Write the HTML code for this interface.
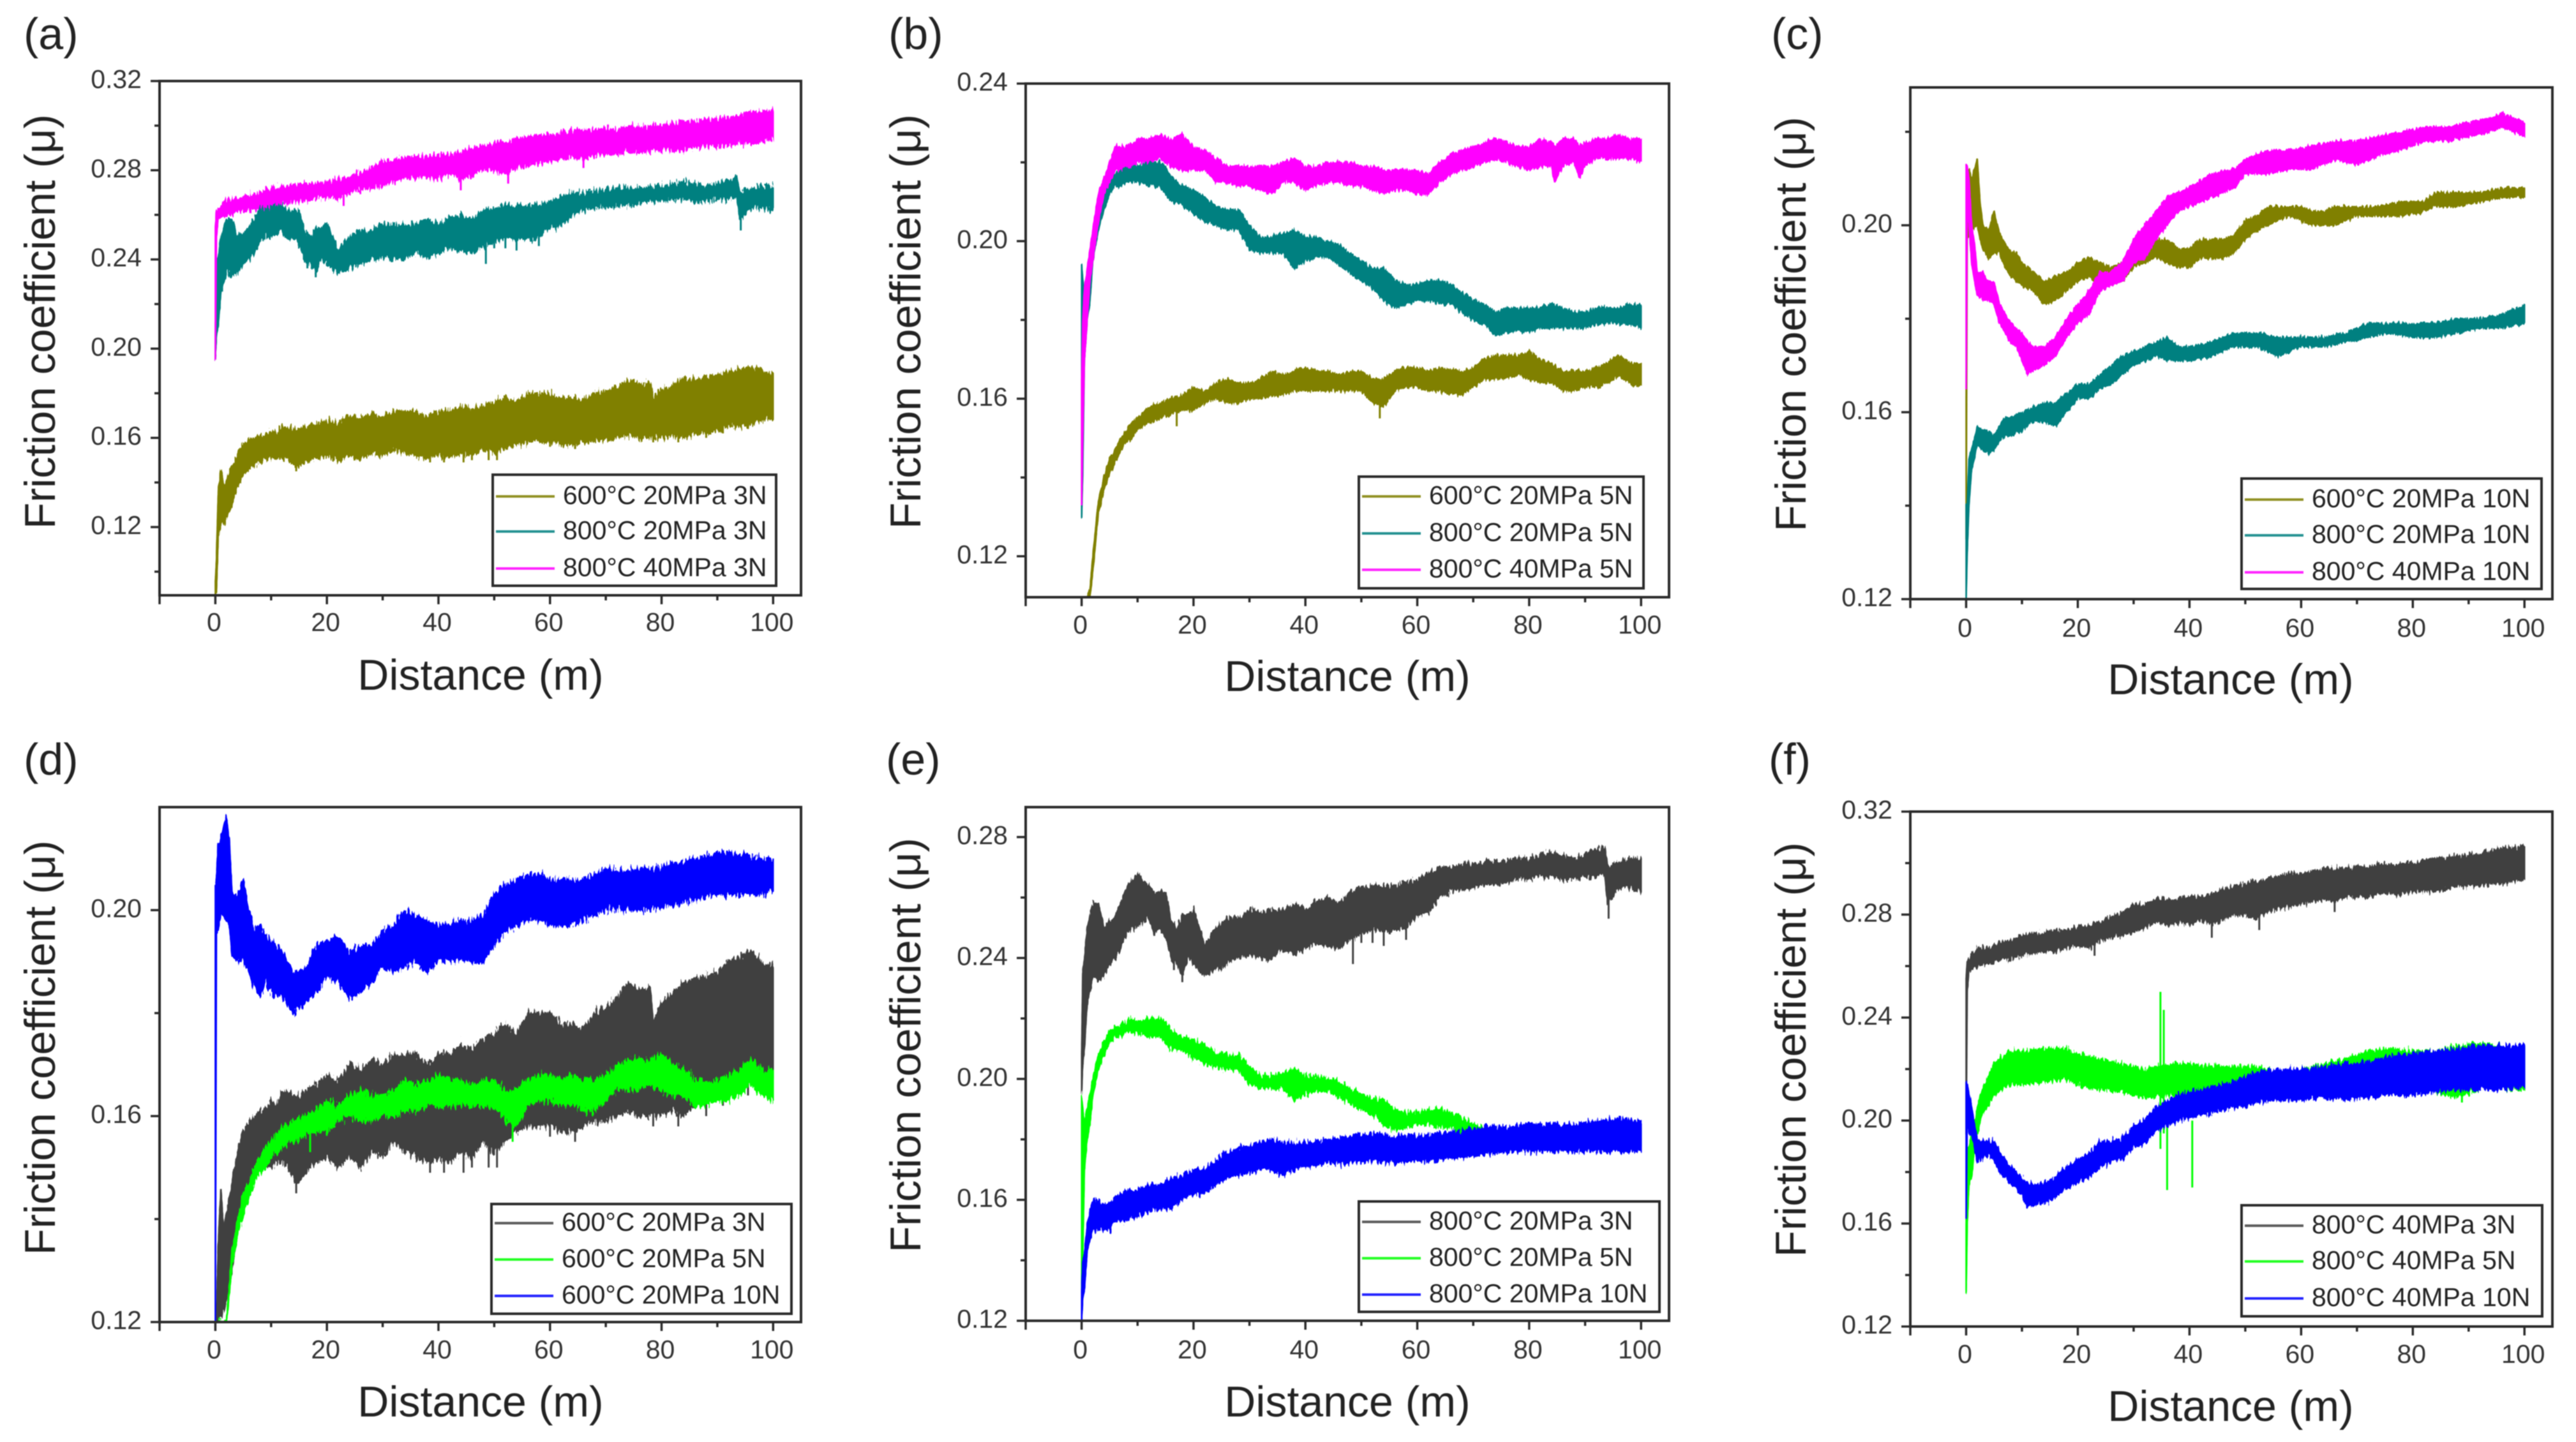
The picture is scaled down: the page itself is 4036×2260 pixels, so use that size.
<!DOCTYPE html>
<html lang="en">
<head>
<meta charset="utf-8">
<title>Friction coefficient versus distance</title>
<style>
html,body{margin:0;padding:0;background:#fff;width:4036px;height:2260px;overflow:hidden}
svg{display:block;filter:blur(0.9px)}
text{font-family:"Liberation Sans",Arial,sans-serif}
</style>
</head>
<body>
<svg id="figure" xmlns="http://www.w3.org/2000/svg" width="4036" height="2260" viewBox="0 0 4036 2260"></svg>
<script>
// Rows are [distance m, lower edge of trace, upper edge of trace].
const t600_20_3N=[[0,.085,.095],[.2,.09,.106],[.5,.115,.135],[1,.121,.146],[1.5,.122,.138],[2,.124,.141],[3,.13,.147],[4,.138,.153],[5,.143,.157],[6,.146,.159],[7,.148,.16],[8,.149,.161],[9,.15,.161],[10,.15,.163],[11,.151,.162],[12,.151,.165],[13,.15,.165],[14,.148,.164],[15,.147,.164],[16,.149,.165],[18,.151,.166],[20,.152,.168],[22,.15,.167],[24,.152,.17],[26,.15,.169],[28,.153,.171],[30,.152,.17],[32,.155,.172],[34,.153,.172],[36,.152,.172],[38,.151,.17],[40,.152,.172],[42,.151,.172],[44,.153,.174],[46,.152,.173],[48,.155,.175],[50,.153,.176],[52,.155,.178],[54,.157,.176],[56,.158,.18],[58,.158,.18],[60,.158,.18],[62,.157,.178],[64,.157,.178],[66,.158,.177],[68,.159,.18],[70,.159,.181],[72,.16,.183],[74,.161,.186],[76,.16,.184],[78,.16,.185],[78.5,.16,.178],[80,.16,.182],[82,.161,.184],[84,.16,.186],[86,.162,.187],[88,.162,.187],[90,.163,.188],[92,.165,.19],[94,.165,.191],[96,.166,.192],[98,.168,.19],[100,.168,.189]];
const spikes_600_20_3N=[[14.5,.145,.155],[38.5,.149,.16],[41,.149,.16],[44.5,.149,.16],[46,.15,.16],[49,.15,.16],[50.5,.15,.16],[60,.156,.165],[64.5,.155,.165],[78.5,.158,.168],[83,.158,.168],[88,.16,.17],[91,.162,.172],[95.5,.164,.172]];
const t800_20_3N=[[0,.195,.208],[.2,.205,.235],[.5,.21,.24],[1,.225,.25],[2,.234,.258],[3,.233,.258],[4,.234,.25],[5,.238,.252],[6,.24,.254],[7,.243,.258],[8,.248,.263],[9,.25,.266],[10,.25,.268],[11,.252,.266],[12,.253,.264],[13,.248,.262],[14,.25,.262],[15,.247,.262],[16,.24,.252],[17,.238,.25],[18,.234,.254],[19,.24,.254],[20,.238,.256],[22,.234,.244],[24,.236,.25],[26,.238,.253],[28,.24,.253],[30,.241,.256],[32,.24,.255],[34,.24,.256],[36,.243,.256],[38,.241,.258],[40,.243,.256],[42,.245,.259],[44,.244,.26],[46,.243,.258],[48,.246,.262],[50,.248,.263],[52,.249,.264],[54,.249,.264],[56,.249,.264],[58,.25,.265],[60,.254,.266],[62,.255,.268],[64,.26,.27],[66,.262,.27],[68,.263,.271],[70,.263,.271],[72,.264,.272],[74,.264,.272],[76,.265,.272],[78,.266,.273],[80,.266,.273],[82,.267,.274],[84,.267,.275],[86,.266,.274],[88,.266,.273],[90,.267,.274],[92,.267,.276],[93.5,.268,.277],[94,.258,.27],[96,.263,.272],[98,.263,.273],[100,.262,.273]];
const spikes_800_20_3N=[[16.5,.236,.245],[18,.232,.24],[48.5,.238,.25],[50,.245,.252],[52,.245,.252],[54,.244,.25],[58,.246,.252],[94.2,.253,.262]];
const t800_40_3N=[[0,.195,.255],[.2,.25,.262],[.5,.258,.263],[1,.259,.264],[2,.26,.267],[4,.261,.267],[6,.262,.269],[8,.263,.27],[10,.264,.272],[12,.265,.273],[14,.266,.273],[16,.266,.274],[18,.267,.274],[20,.268,.275],[22,.267,.276],[24,.27,.277],[26,.271,.279],[28,.272,.281],[30,.273,.284],[32,.275,.284],[34,.277,.286],[36,.276,.286],[38,.277,.286],[40,.276,.287],[42,.278,.287],[44,.276,.288],[46,.278,.29],[48,.28,.291],[50,.28,.292],[52,.278,.293],[54,.281,.294],[56,.282,.295],[58,.283,.296],[60,.284,.296],[62,.285,.297],[64,.286,.298],[66,.285,.298],[68,.287,.298],[70,.287,.299],[72,.287,.298],[74,.288,.3],[76,.288,.299],[78,.288,.3],[80,.289,.3],[82,.289,.301],[84,.289,.302],[86,.29,.302],[88,.291,.303],[90,.291,.303],[92,.291,.304],[94,.292,.305],[96,.292,.306],[98,.293,.306],[100,.294,.307]];
const spikes_800_40_3N=[[23,.264,.27],[44,.271,.28],[52.5,.274,.282],[66,.281,.288]];
const t600_20_5N=[[0,.08,.08],[1,.098,.1],[1.5,.109,.112],[2,.116,.12],[3,.131,.134],[4,.137,.14],[5,.141,.145],[6,.144,.147],[7,.147,.15],[8,.149,.152],[9,.15,.154],[10,.152,.155],[12,.154,.158],[14,.155,.159],[16,.156,.16],[18,.157,.161],[20,.157,.163],[22,.159,.162],[24,.16,.164],[26,.159,.165],[28,.159,.164],[30,.16,.164],[32,.16,.165],[34,.161,.167],[36,.161,.166],[38,.162,.167],[40,.162,.168],[42,.162,.167],[44,.162,.167],[46,.162,.166],[48,.162,.167],[50,.162,.167],[52,.159,.165],[54,.158,.165],[56,.162,.167],[58,.163,.168],[60,.163,.168],[62,.162,.167],[64,.162,.168],[66,.161,.167],[68,.161,.167],[70,.163,.168],[72,.165,.17],[74,.165,.171],[76,.165,.171],[78,.166,.171],[80,.165,.172],[82,.164,.17],[84,.164,.169],[86,.162,.167],[88,.162,.167],[90,.163,.167],[92,.163,.168],[94,.164,.169],[96,.166,.171],[98,.164,.169],[100,.163,.169]];
const spikes_600_20_5N=[[53.3,.155,.165],[17,.153,.16]];
const t800_20_5N=[[0,.13,.194],[.2,.141,.19],[.5,.17,.186],[1,.18,.19],[1.5,.185,.195],[2,.195,.2],[3,.203,.208],[4,.208,.212],[5,.212,.216],[6,.214,.217],[7,.214,.218],[8,.215,.219],[9,.215,.22],[10,.215,.219],[12,.214,.22],[14,.214,.22],[15,.212,.219],[16,.21,.216],[18,.209,.214],[20,.207,.213],[22,.205,.211],[24,.204,.209],[26,.203,.208],[28,.203,.208],[30,.198,.204],[32,.197,.201],[34,.197,.201],[36,.197,.202],[38,.193,.203],[40,.195,.201],[42,.196,.201],[44,.196,.2],[46,.194,.199],[48,.192,.197],[50,.19,.195],[52,.188,.193],[54,.185,.193],[56,.183,.19],[58,.184,.189],[60,.185,.189],[62,.185,.19],[64,.184,.19],[66,.184,.189],[68,.182,.187],[70,.18,.185],[72,.179,.184],[74,.176,.182],[76,.177,.183],[78,.177,.183],[80,.177,.183],[82,.178,.183],[84,.178,.184],[86,.178,.183],[88,.178,.182],[90,.178,.182],[92,.179,.183],[94,.179,.183],[96,.179,.183],[98,.179,.184],[100,.178,.184]];
const t800_40_5N=[[0,.133,.165],[.2,.15,.18],[.5,.17,.188],[1,.18,.193],[1.5,.19,.198],[2,.195,.203],[3,.205,.212],[4,.212,.216],[5,.215,.22],[6,.218,.224],[7,.218,.224],[8,.219,.224],[9,.219,.225],[10,.22,.226],[12,.22,.226],[14,.221,.227],[16,.219,.226],[18,.218,.227],[20,.218,.224],[22,.218,.223],[24,.215,.221],[26,.215,.219],[28,.214,.219],[30,.214,.219],[32,.213,.219],[34,.212,.219],[36,.215,.22],[38,.215,.221],[40,.213,.219],[42,.214,.219],[44,.215,.22],[46,.215,.22],[48,.214,.22],[50,.214,.219],[52,.213,.219],[54,.212,.218],[56,.213,.218],[58,.213,.218],[60,.212,.218],[62,.212,.217],[64,.215,.22],[66,.217,.222],[68,.218,.223],[70,.219,.224],[72,.22,.225],[74,.221,.226],[76,.22,.225],[78,.219,.224],[80,.218,.224],[82,.219,.226],[84,.219,.225],[84.5,.215,.224],[86,.219,.226],[88,.22,.226],[89,.216,.224],[90,.219,.225],[92,.221,.226],[94,.221,.226],[96,.221,.227],[98,.221,.226],[100,.22,.226]];
const t600_20_10N=[[0,.133,.163],[.2,.197,.21],[.5,.198,.212],[1,.199,.21],[2,.2,.214],[2.5,.197,.205],[3,.195,.2],[4,.193,.199],[5,.194,.203],[6,.194,.198],[7,.191,.196],[8,.189,.194],[9,.188,.194],[10,.187,.192],[12,.186,.19],[14,.183,.188],[16,.184,.189],[18,.186,.19],[20,.188,.192],[22,.189,.193],[24,.187,.192],[26,.187,.191],[28,.188,.192],[30,.191,.195],[32,.192,.196],[34,.193,.197],[36,.192,.197],[38,.191,.195],[40,.191,.195],[42,.193,.197],[44,.193,.197],[46,.193,.197],[48,.194,.198],[50,.197,.201],[52,.199,.202],[54,.2,.204],[56,.201,.204],[58,.202,.204],[60,.201,.204],[62,.2,.203],[64,.2,.203],[66,.2,.204],[68,.201,.204],[70,.202,.204],[74,.202,.204],[78,.202,.205],[82,.203,.205],[84,.204,.207],[88,.204,.207],[92,.205,.207],[96,.206,.208],[100,.206,.208]];
const t800_20_10N=[[0,.12,.14],[.2,.13,.14],[.5,.14,.15],[1,.148,.152],[2,.153,.157],[3,.152,.156],[4,.151,.156],[5,.152,.155],[6,.154,.157],[7,.155,.159],[8,.155,.159],[10,.156,.16],[12,.158,.161],[14,.158,.162],[16,.157,.162],[18,.16,.164],[20,.163,.166],[22,.163,.166],[24,.165,.168],[26,.166,.17],[28,.168,.172],[30,.17,.173],[32,.171,.174],[34,.172,.175],[36,.171,.176],[38,.171,.174],[40,.171,.174],[44,.172,.175],[48,.174,.177],[52,.174,.177],[56,.172,.176],[60,.174,.176],[64,.174,.176],[68,.175,.177],[72,.176,.179],[76,.177,.179],[80,.176,.179],[84,.176,.179],[88,.177,.18],[92,.178,.18],[96,.178,.181],[100,.179,.183]];
const t800_40_10N=[[0,.165,.213],[.2,.205,.213],[.5,.2,.21],[1,.192,.2],[1.5,.188,.196],[2,.185,.19],[3,.184,.19],[4,.184,.188],[5,.183,.188],[6,.179,.183],[7,.177,.181],[8,.175,.179],[9,.174,.178],[10,.171,.177],[11,.168,.175],[12,.169,.174],[14,.17,.174],[16,.172,.176],[18,.176,.18],[20,.179,.183],[22,.181,.186],[24,.186,.19],[26,.187,.19],[28,.188,.192],[30,.192,.197],[32,.193,.2],[34,.197,.203],[36,.2,.206],[38,.203,.207],[40,.204,.208],[44,.206,.211],[48,.208,.212],[50,.211,.214],[54,.211,.216],[58,.212,.216],[62,.212,.217],[66,.214,.218],[70,.213,.218],[74,.215,.219],[78,.216,.22],[82,.218,.221],[86,.218,.221],[90,.219,.222],[94,.22,.223],[96,.221,.224],[98,.22,.223],[100,.219,.222]];
const t600_20_10N_wide=[[0,.12,.205],[.2,.197,.206],[.5,.196,.213],[1,.2,.214],[2,.198,.218],[2.5,.198,.214],[3,.191,.203],[4,.19,.203],[5,.19,.206],[6,.188,.2],[7,.185,.196],[8,.183,.197],[9,.186,.195],[10,.184,.194],[12,.183,.192],[14,.18,.188],[16,.182,.188],[18,.184,.193],[20,.187,.194],[22,.186,.195],[24,.183,.192],[26,.184,.193],[28,.186,.193],[30,.189,.196],[32,.188,.197],[34,.189,.2],[36,.19,.199],[38,.188,.198],[40,.19,.197],[44,.19,.198],[46,.19,.198],[48,.19,.199],[50,.193,.203],[52,.196,.205],[54,.197,.206],[56,.198,.207],[58,.198,.207],[60,.197,.206],[62,.197,.206],[66,.198,.206],[70,.2,.208],[74,.2,.208],[78,.2,.208],[82,.201,.209],[86,.202,.21],[90,.203,.211],[94,.203,.211],[98,.203,.21],[100,.204,.21]];
const t800_20_10N_wide=[[0,.12,.13],[.2,.128,.14],[.5,.13,.142],[1,.143,.152],[2,.15,.16],[3,.15,.16],[4,.15,.158],[5,.15,.159],[6,.153,.161],[8,.153,.163],[10,.155,.163],[12,.156,.165],[14,.157,.165],[16,.157,.167],[18,.16,.168],[20,.162,.17],[22,.162,.17],[24,.165,.173],[26,.167,.176],[28,.168,.177],[30,.169,.178],[32,.17,.179],[34,.17,.18],[36,.168,.179],[38,.17,.179],[40,.171,.179],[44,.172,.18],[48,.172,.181],[52,.173,.182],[56,.172,.181],[60,.173,.181],[64,.173,.182],[68,.174,.183],[72,.175,.184],[76,.176,.184],[80,.176,.185],[84,.176,.185],[88,.176,.185],[92,.176,.186],[96,.176,.187],[100,.176,.186]];
const t800_40_10N_wide=[[0,.162,.215],[.2,.2,.214],[.5,.195,.21],[1,.194,.205],[2,.184,.192],[3,.186,.192],[4,.186,.192],[5,.185,.192],[6,.18,.188],[8,.175,.182],[10,.171,.178],[11,.166,.176],[12,.167,.175],[14,.168,.176],[16,.17,.178],[18,.174,.182],[20,.176,.185],[22,.178,.187],[24,.182,.192],[26,.184,.192],[28,.185,.193],[30,.19,.198],[32,.191,.2],[34,.196,.205],[36,.198,.208],[38,.2,.21],[40,.201,.211],[44,.203,.213],[48,.205,.215],[52,.207,.219],[56,.208,.22],[60,.208,.22],[64,.209,.221],[68,.208,.222],[72,.209,.223],[76,.21,.225],[80,.21,.226],[84,.211,.227],[88,.212,.228],[92,.212,.229],[96,.212,.229],[100,.213,.229]];
const t800_40_5N_wide=[[0,.133,.16],[.2,.16,.19],[.5,.175,.19],[1,.178,.195],[1.5,.19,.2],[2,.195,.205],[3,.203,.213],[4,.206,.217],[5,.21,.222],[6,.212,.224],[8,.214,.227],[10,.214,.227],[14,.215,.228],[18,.216,.228],[20,.214,.226],[24,.212,.224],[28,.211,.222],[32,.209,.22],[36,.21,.222],[40,.21,.222],[44,.21,.221],[48,.21,.221],[52,.21,.221],[56,.208,.219],[60,.209,.22],[64,.21,.222],[68,.21,.224],[72,.212,.227],[76,.212,.228],[80,.211,.227],[84,.211,.227],[88,.209,.229],[92,.212,.23],[96,.212,.229],[100,.212,.229]];
const spikes_800_40_5N=[[34.8,.189,.25],[35.4,.195,.243],[36,.173,.2],[40.5,.174,.2],[88.8,.207,.215]];

const xTickLabels=[0,20,40,60,80,100];
const xMinorTicks=[10,30,50,70,90];
const yTicksA=[.12,.16,.20,.24,.28,.32];
const yMinorA=[.10,.14,.18,.22,.26,.30];
const yTicksB=[.12,.16,.20,.24];
const yMinorB=[.14,.18,.22];
const yTicksC=[.12,.16,.20];
const yMinorC=[.14,.18,.22];
const yTicksD=[.12,.16,.20];
const yMinorD=[.14,.18];
const yTicksE=[.12,.16,.20,.24,.28];
const yMinorE=[.14,.18,.22,.26];
const yTicksF=[.12,.16,.20,.24,.28,.32];
const yMinorF=[.14,.18,.22,.26,.30];

const OLIVE='#808000',TEAL='#008080',MAGENTA='#ff00ff',DARK='#404040',GREEN='#00ff00',BLUE='#0000ff';
const panels=[
 {id:'a',rough:22,box:[250,1255,127,933],yr:[.0894,.32],yt:yTicksA,ym:yMinorA,lab:[37,77],xl:989,xt:[753,1081],yt2:[86,504],leg:[772,1216,744,918,[778,833,891]],
  s:[['600°C 20MPa 3N',OLIVE,t600_20_3N,spikes_600_20_3N],['800°C 20MPa 3N',TEAL,t800_20_3N,spikes_800_20_3N],['800°C 40MPa 3N',MAGENTA,t800_40_3N,spikes_800_40_3N]]},
 {id:'b',rough:13,box:[1607,2615,131,936],yr:[.1096,.24],yt:yTicksB,ym:yMinorB,lab:[1392,77],xl:993,xt:[2111,1083],yt2:[1442,504],leg:[2129,2575,747,922,[778,836,893]],
  s:[['600°C 20MPa 5N',OLIVE,t600_20_5N,spikes_600_20_5N],['800°C 20MPa 5N',TEAL,t800_20_5N,null],['800°C 40MPa 5N',MAGENTA,t800_40_5N,null]]},
 {id:'c',rough:11,box:[2993,3999,137,939],yr:[.12,.2295],yt:yTicksC,ym:yMinorC,lab:[2775,77],xl:998,xt:[3495,1088],yt2:[2829,508],leg:[3512,3982,750,923,[783,839,897]],
  s:[['600°C 20MPa 10N',OLIVE,t600_20_10N,null],['800°C 20MPa 10N',TEAL,t800_20_10N,null],['800°C 40MPa 10N',MAGENTA,t800_40_10N,null]]},
 {id:'d',rough:26,box:[250,1255,1265,2072],yr:[.12,.22],yt:yTicksD,ym:yMinorD,lab:[37,1214],xl:2129,xt:[753,2220],yt2:[86,1642],leg:[770,1240,1887,2059,[1917,1974,2031]],
  s:[['600°C 20MPa 3N',DARK,t600_20_3N,spikes_600_20_3N],['600°C 20MPa 5N',GREEN,t600_20_5N,spikes_600_20_5N],['600°C 20MPa 10N',BLUE,t600_20_10N_wide,null]]},
 {id:'e',rough:20,box:[1607,2615,1265,2070],yr:[.12,.2899],yt:yTicksE,ym:yMinorE,lab:[1388,1214],xl:2129,xt:[2111,2220],yt2:[1442,1638],leg:[2129,2600,1883,2056,[1915,1972,2029]],
  s:[['800°C 20MPa 3N',DARK,t800_20_3N,spikes_800_20_3N],['800°C 20MPa 5N',GREEN,t800_20_5N,null],['800°C 20MPa 10N',BLUE,t800_20_10N_wide,null]]},
 {id:'f',rough:18,box:[2993,3999,1272,2079],yr:[.12,.32],yt:yTicksF,ym:yMinorF,lab:[2771,1214],xl:2136,xt:[3495,2227],yt2:[2829,1645],leg:[3512,3983,1889,2063,[1921,1977,2035]],
  s:[['800°C 40MPa 3N',DARK,t800_40_3N,spikes_800_40_3N],['800°C 40MPa 5N',GREEN,t800_40_5N_wide,spikes_800_40_5N],['800°C 40MPa 10N',BLUE,t800_40_10N_wide,null]]}
];

const NS='http://www.w3.org/2000/svg';
const root=document.getElementById('figure');
const XMIN=-10,XMAX=105;
function node(parent,tag,attrs,txt){
  const el=document.createElementNS(NS,tag);
  for(const k in attrs)el.setAttribute(k,attrs[k]);
  if(txt!==undefined)el.textContent=txt;
  parent.appendChild(el);
  return el;
}
const defs=node(root,'defs',{});
panels.forEach(function(p,pi){
  const L=p.box[0],R=p.box[1],T=p.box[2],B=p.box[3];
  const xAt=function(d){return L+(d-XMIN)/(XMAX-XMIN)*(R-L);};
  const yAt=function(v){const c=Math.min(p.yr[1],Math.max(p.yr[0],v));return B-(c-p.yr[0])/(p.yr[1]-p.yr[0])*(B-T);};
  const g=node(root,'g',{});
  
  

  const lab=node(g,'text',{x:p.lab[0],y:p.lab[1],'font-size':70,fill:'#222'},'('+p.id+')');
  
  

  const clip=node(defs,'clipPath',{id:'clip-'+p.id});
  node(clip,'rect',{x:L,y:T,width:R-L,height:B-T});

  // Edge texture only: shifts pixels of the drawn band by a few px, no data is changed.
  const flt=node(defs,'filter',{id:'rough-'+p.id,filterUnits:'userSpaceOnUse',x:L,y:T,width:R-L,height:B-T,'color-interpolation-filters':'sRGB'});
  node(flt,'feTurbulence',{type:'fractalNoise',baseFrequency:'0.33 0.07',numOctaves:2,seed:3+pi,result:'n'});
  node(flt,'feColorMatrix',{in:'n',type:'matrix',values:'0 0 0 0 0.5  1 0 0 0 0  0 0 1 0 0  0 0 0 0 1',result:'m'});
  node(flt,'feDisplacementMap',{in:'SourceGraphic',in2:'m',scale:p.rough,xChannelSelector:'R',yChannelSelector:'G'});

  const plot=node(g,'g',{'clip-path':'url(#clip-'+p.id+')'});
  
  
  p.s.forEach(function(ser,i){
    const rows=ser[2];
    let dd='';
    rows.forEach(function(r,j){dd+=(j?'L':'M')+xAt(r[0]).toFixed(1)+' '+yAt(r[2]).toFixed(1);});
    rows.slice().reverse().forEach(function(r){dd+='L'+xAt(r[0]).toFixed(1)+' '+yAt(r[1]).toFixed(1);});
    dd+='Z';
    const tr=node(plot,'path',{d:dd,fill:ser[1],stroke:ser[1],'stroke-width':2.5,'stroke-linejoin':'round',filter:'url(#rough-'+p.id+')'});
    
    
    if(ser[3]){
      ser[3].forEach(function(sp){
        const ln=node(plot,'line',{x1:xAt(sp[0]),x2:xAt(sp[0]),y1:yAt(sp[1]),y2:yAt(sp[2]),stroke:ser[1],'stroke-width':3});
        
        
      });
    }
  });

  const frame=node(g,'rect',{x:L,y:T,width:R-L,height:B-T,fill:'none',stroke:'#2a2a2a','stroke-width':4});
  
  

  const xAxis=node(g,'g',{});
  
  
  [-10].concat(xTickLabels).forEach(function(d){
    node(xAxis,'line',{x1:xAt(d),x2:xAt(d),y1:B,y2:B+14,stroke:'#2a2a2a','stroke-width':3.5});
  });
  xMinorTicks.forEach(function(d){
    node(xAxis,'line',{x1:xAt(d),x2:xAt(d),y1:B,y2:B+8,stroke:'#2a2a2a','stroke-width':3.5});
  });
  xTickLabels.forEach(function(d){
    const t=node(xAxis,'text',{x:xAt(d)-2,y:p.xl,'font-size':41,fill:'#333','text-anchor':'middle'},String(d));
    
    
  });
  const xTitle=node(g,'text',{x:p.xt[0],y:p.xt[1],'font-size':68,fill:'#222','text-anchor':'middle'},'Distance (m)');
  
  

  const yAxis=node(g,'g',{});
  
  
  p.yt.forEach(function(v){
    node(yAxis,'line',{x1:L-14,x2:L,y1:yAt(v),y2:yAt(v),stroke:'#2a2a2a','stroke-width':3.5});
    const t=node(yAxis,'text',{x:L-28,y:yAt(v)+11,'font-size':41,fill:'#333','text-anchor':'end'},v.toFixed(2));
    
    
  });
  p.ym.forEach(function(v){
    node(yAxis,'line',{x1:L-8,x2:L,y1:yAt(v),y2:yAt(v),stroke:'#2a2a2a','stroke-width':3.5});
  });
  const yTitle=node(g,'text',{x:0,y:0,transform:'translate('+p.yt2[0]+' '+p.yt2[1]+') rotate(-90)','font-size':68,fill:'#222','text-anchor':'middle'},'Friction coefficient (μ)');
  
  

  const leg=node(g,'g',{});
  
  
  const lg=p.leg;
  node(leg,'rect',{x:lg[0],y:lg[2],width:lg[1]-lg[0],height:lg[3]-lg[2],fill:'#fff',stroke:'#2a2a2a','stroke-width':4});
  p.s.forEach(function(ser,i){
    const yy=lg[4][i];
    node(leg,'line',{x1:lg[0]+5,x2:lg[0]+97,y1:yy,y2:yy,stroke:ser[1],'stroke-width':4,opacity:.85});
    const t=node(leg,'text',{x:lg[0]+110,y:yy+12,'font-size':41,fill:'#222'},ser[0]);
    
    
  });
});
</script>
</body>
</html>
